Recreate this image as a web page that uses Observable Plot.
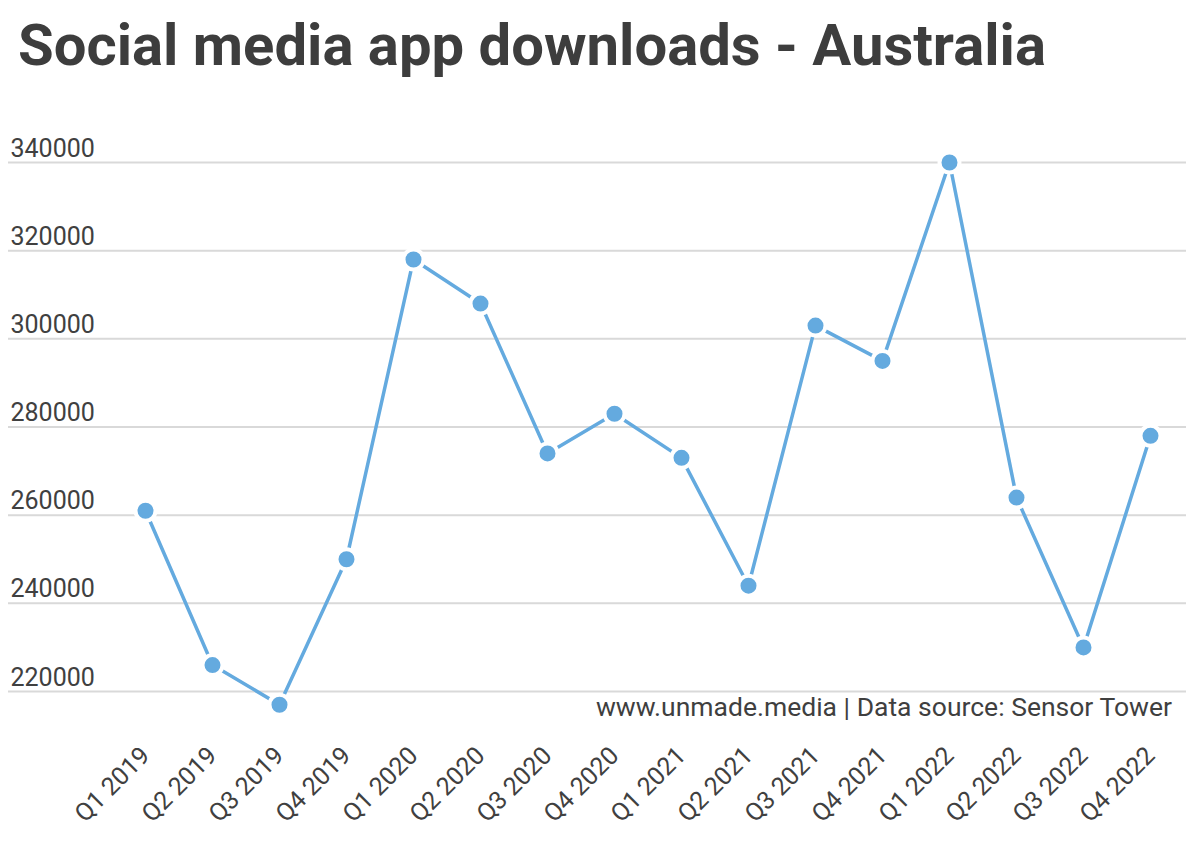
<!DOCTYPE html>
<html>
<head>
<meta charset="utf-8">
<script src="https://cdn.jsdelivr.net/npm/d3@7"></script>
<script src="https://cdn.jsdelivr.net/npm/@observablehq/plot@0.6"></script>
<style>
  html, body { margin: 0; padding: 0; background: #fff; }
  body { width: 1186px; height: 850px; position: relative; overflow: hidden; font-family: Roboto, sans-serif; }
  #title { position: absolute; left: 18px; top: 11px; margin: 0; font-size: 58px; font-weight: 700; color: #3d3d3d; line-height: normal; white-space: nowrap; }
  #chart { position: absolute; left: 0; top: 100px; }
  #caption { position: absolute; right: 14px; top: 691px; font-size: 26.5px; font-weight: 400; color: #3f3f3f; line-height: normal; white-space: nowrap; }
</style>
</head>
<body>
<div id="title">Social media app downloads - Australia</div>
<div id="chart"></div>
<div id="caption">www.unmade.media | Data source: Sensor Tower</div>
<script>
const quarters = ["Q1 2019","Q2 2019","Q3 2019","Q4 2019","Q1 2020","Q2 2020","Q3 2020","Q4 2020","Q1 2021","Q2 2021","Q3 2021","Q4 2021","Q1 2022","Q2 2022","Q3 2022","Q4 2022"];
const downloads = [261000,226000,217000,250000,318000,308000,274000,283000,273000,244000,303000,295000,340000,264000,230000,278000];
const yTicks = [220000,240000,260000,280000,300000,320000,340000];

const data = quarters.map((q, i) => ({q, v: downloads[i]}));
const blue = "#64aadf";

const chart = Plot.plot({
  width: 1186,
  height: 750,
  marginLeft: 8,
  marginRight: 0,
  marginTop: 18,
  marginBottom: 115,
  style: {fontFamily: "Roboto, sans-serif", background: "transparent"},
  x: {type: "point", domain: quarters, range: [142.5, 1153], padding: 0},
  y: {domain: [220000, 340000], range: [591, 62], axis: null},
  marks: [
    Plot.gridY(yTicks, {stroke: "#d9d9d9", strokeOpacity: 1, strokeWidth: 2}),
    Plot.text(yTicks, {y: d => d, text: d => String(d), frameAnchor: "left", textAnchor: "start", dx: 2, dy: -14, fontSize: 25, fill: "#404040"}),
    Plot.axisX({tickSize: 0, tickPadding: 16, tickRotate: -45, fontSize: 25, fill: "#404040", label: null}),
    Plot.line(data, {x: "q", y: "v", stroke: blue, strokeWidth: 3.5}),
    Plot.dot(data, {x: "q", y: "v", r: 10, fill: blue, stroke: "white", strokeWidth: 4})
  ]
});
document.getElementById("chart").appendChild(chart);
</script>
</body>
</html>
